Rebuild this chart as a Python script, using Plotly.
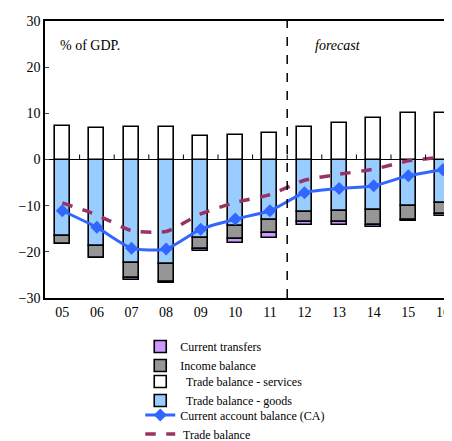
import plotly.graph_objects as go

years = ["05", "06", "07", "08", "09", "10", "11", "12", "13", "14", "15", "16"]
goods = [-16.5, -18.8, -22.5, -22.7, -16.9, -14.3, -13.2, -11.4, -11.1, -10.9, -10.1, -9.5]
services = [7.2, 6.8, 7.1, 7.0, 5.1, 5.2, 5.8, 7.0, 8.0, 9.0, 10.0, 10.1]
income = [-1.8, -2.5, -3.1, -3.8, -2.5, -2.9, -2.7, -2.2, -2.4, -3.2, -2.9, -2.4]
transfers = [-0.1, -0.1, -0.6, -0.2, -0.5, -0.8, -1.1, -0.6, -0.6, -0.5, -0.3, -0.3]
ca = [-11.1, -14.7, -19.2, -19.4, -15.1, -12.9, -11.1, -7.2, -6.3, -5.7, -3.5, -2.2]
trade = [-9.4, -12.0, -15.4, -15.6, -11.8, -9.3, -7.6, -4.5, -3.2, -2.1, -0.3, 0.5]

FONT = "Times New Roman, Liberation Serif, DejaVu Serif, serif"
x = list(range(len(years)))
bw = 0.43

fig = go.Figure()
fig.add_trace(go.Bar(x=x, y=goods, name="  Trade balance - goods", width=bw,
                     marker=dict(color="#99CCFF", line=dict(color="black", width=1.6)),
                     legend="legend2", legendrank=2))
fig.add_trace(go.Bar(x=x, y=income, name="Income balance", width=bw,
                     marker=dict(color="#969696", line=dict(color="black", width=1.6)),
                     legend="legend", legendrank=2))
fig.add_trace(go.Bar(x=x, y=transfers, name="Current transfers", width=bw,
                     marker=dict(color="#CC99FF", line=dict(color="black", width=1.6)),
                     legend="legend", legendrank=1))
fig.add_trace(go.Bar(x=x, y=services, name="  Trade balance - services", width=bw,
                     marker=dict(color="white", line=dict(color="black", width=1.6)),
                     legend="legend2", legendrank=1))
fig.add_trace(go.Scatter(x=x, y=ca, name="Current account balance (CA)", mode="lines+markers",
                         line=dict(color="#3366FF", width=3, shape="spline", smoothing=0.6),
                         marker=dict(symbol="diamond", size=10, color="#3366FF"),
                         legend="legend3", legendrank=1))
fig.add_trace(go.Scatter(x=x, y=trade, name=" Trade balance", mode="lines",
                         line=dict(color="#993366", width=3.5, dash="dash", shape="spline", smoothing=0.6),
                         legend="legend3", legendrank=2))

shapes = [dict(type="line", xref="x", yref="paper", x0=6.5, x1=6.5, y0=0, y1=1,
               line=dict(color="black", width=1.5, dash="dash"))]
for i in range(len(years)):
    shapes.append(dict(type="line", xref="x", yref="y", x0=i + 0.5, x1=i + 0.5,
                       ysizemode="pixel", yanchor=0, y0=0, y1=5,
                       line=dict(color="black", width=1)))

W, H = 456, 433


def leg(y):
    return dict(x=0.29, y=y, xref="container", yref="container",
                xanchor="left", yanchor="top", traceorder="normal",
                font=dict(family=FONT, size=12), tracegroupgap=0,
                bgcolor="rgba(0,0,0,0)")


fig.update_layout(
    width=W, height=H,
    margin=dict(l=37, r=0, t=13, b=143, autoexpand=False),
    plot_bgcolor="white", paper_bgcolor="white",
    barmode="relative", bargap=0,
    font=dict(family=FONT, size=14, color="black"),
    showlegend=True,
    legend=leg(0.2517), legend2=leg(0.1709), legend3=leg(0.0935),
    shapes=shapes,
    annotations=[
        dict(text="% of GDP.", xref="paper", yref="paper", x=0.03, y=0.91,
             showarrow=False, xanchor="left", yanchor="middle", font=dict(size=14)),
        dict(text="<i>forecast</i>", xref="paper", yref="paper", x=0.64, y=0.91,
             showarrow=False, xanchor="left", yanchor="middle", font=dict(size=14)),
    ],
)
fig.update_xaxes(range=[-0.5, 11.61], tickmode="array", tickvals=x, ticktext=years,
                 showline=True, linecolor="black", linewidth=1.5, mirror=True,
                 ticks="", showgrid=False, zeroline=False, tickfont=dict(size=14))
fig.update_yaxes(range=[-30, 30], dtick=10, showline=True, linecolor="black", linewidth=1.5,
                 ticks="inside", ticklen=4, showgrid=False, zeroline=True,
                 zerolinecolor="black", zerolinewidth=1.2, tickfont=dict(size=14))

fig.write_html("out.html")
